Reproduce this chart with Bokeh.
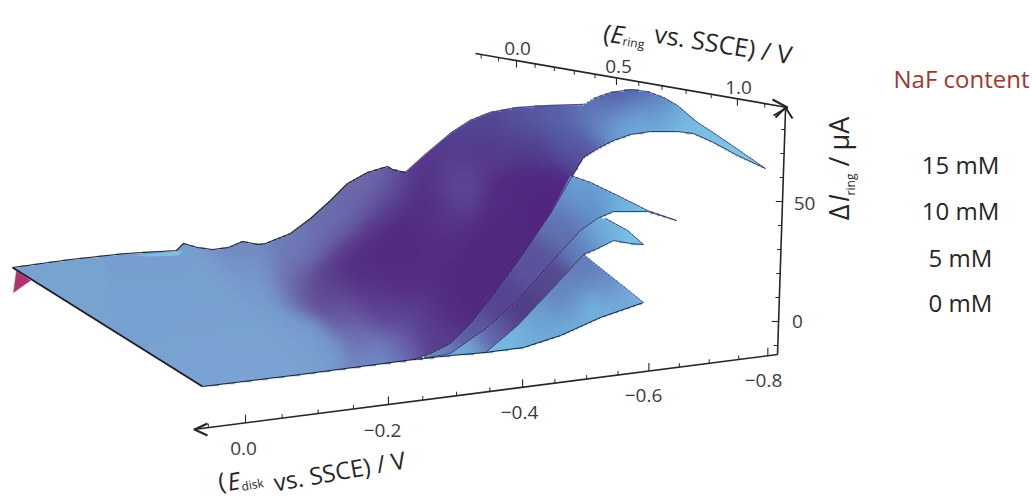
import numpy as np
from bokeh.plotting import figure
from bokeh.models import Range1d
from bokeh.core.properties import value
from bokeh.embed import file_html
from bokeh.resources import INLINE

W, H = 1032, 497
FONT = value("Open Sans")

# --- tick values on the three axes
disk_major = [0.0, -0.2, -0.4, -0.6, -0.8]
disk_minor = [0.05, -0.05, -0.1, -0.15, -0.25, -0.3, -0.35, -0.45, -0.5, -0.55, -0.65, -0.7, -0.75]
disk_labels = ["0.0", "\u22120.2", "\u22120.4", "\u22120.6", "\u22120.8"]
ring_major = [0.0, 0.5, 1.0]
ring_minor = [-0.2, -0.1, 0.1, 0.2, 0.3, 0.4, 0.6, 0.7, 0.8, 0.9, 1.1]
ring_labels = ["0.0", "0.5", "1.0"]
curr_major = [0, 50]
curr_minor = [-10, 10, 20, 30, 40, 60, 70, 80]
curr_labels = ["0", "50"]
naf_labels = ["15 mM", "10 mM", "5 mM", "0 mM"]

# --- projected outlines of the four measured surfaces
back_x = [12, 70, 125, 176, 183, 197, 212, 228, 242, 258, 265, 290, 310, 330, 347, 367, 380, 387, 392, 405]
back_y = [267, 259, 253, 250, 243, 247, 249, 247, 241, 244, 243, 233, 218, 200, 183, 172, 168, 166, 169, 172]
crest_x = [405, 425, 450, 470, 490, 517, 550, 583, 593, 610, 630, 647, 663, 677, 697, 717, 765]
crest_y = [172, 154, 133, 120, 112, 107, 105, 104, 98, 92, 89, 91, 97, 105, 122, 135, 168]
rim15_x = [765, 737, 713, 693, 677, 650, 630, 613, 597, 583, 572]
rim15_y = [168, 155, 142, 133, 131, 131, 134, 140, 148, 157, 175]
line1_x = [572, 550, 520, 490, 470, 450, 430, 413]
line1_y = [175, 213, 257, 298, 323, 343, 353, 359]
floor_x = [202, 300, 413, 450, 485, 523, 560, 600, 643]
floor_y = [386, 374, 359, 355, 352, 347, 335, 317, 302]
top10_x = [570, 590, 617, 647, 676]
top10_y = [175, 182, 195, 210, 220]
rim10_x = [676, 647, 613, 597, 580, 550, 517, 487, 450, 417]
rim10_y = [220, 211, 211, 218, 230, 263, 300, 327, 353, 359]
top5_x = [605, 627, 643]
top5_y = [218, 230, 244]
rim5_x = [643, 630, 613, 597, 583, 550, 517, 485]
rim5_y = [244, 243, 240, 248, 254, 290, 325, 352]
sliver_x = [135, 176, 183, 178, 150]
sliver_y = [255, 251, 250, 255, 256]
under_x = [16, 13, 30]
under_y = [270, 292, 280]

# --- surface colours read at places on the picture: x, y, r, g, b
flat15 = [
 (60,275,120,163,209),(150,300,119,161,208),(230,370,122,163,210),(300,358,122,163,210),
 (220,290,119,160,207),(250,320,120,161,208),(150,262,118,158,205),(270,345,122,163,210),
 (250,270,118,150,200),(262,285,118,156,205),(275,308,118,158,205),(300,335,118,156,205),
 (325,352,118,155,205),(380,360,112,145,200),
]
hill15 = [
 (250,250,112,135,190),(290,240,110,125,185),(330,210,105,110,175),(350,195,108,105,170),
 (372,178,112,110,175),(392,175,100,98,168),(290,262,110,120,182),(310,248,110,115,180),
 (325,235,108,108,175),(345,222,108,105,172),(362,205,106,100,170),(380,190,104,98,168),
]
purple15 = [
 (290,282,110,110,172),(305,288,100,82,150),(322,278,88,58,135),(340,262,84,45,130),(358,245,82,42,128),(375,225,82,42,128),(392,200,80,40,128),
 (407,178,82,45,130),(425,160,84,50,136),(400,250,82,42,128),(360,285,84,48,132),(400,280,84,45,130),(440,240,84,44,130),(430,205,82,44,130),
 (460,195,95,72,150),(455,170,92,66,146),(445,215,88,55,138),
 (480,150,85,55,138),(500,200,82,42,130),(525,180,80,40,128),(550,185,80,38,128),(480,235,80,42,128),(530,215,80,38,128),
 (480,270,80,40,128),(510,230,80,40,128),(445,305,82,44,130),(420,320,90,65,145),(470,305,80,42,128),
 (380,310,92,65,145),(345,315,105,90,165),(400,345,105,95,170),(440,340,88,60,140),(360,340,112,115,180),(330,295,98,78,152),
 (440,145,85,62,145),(480,125,82,72,148),(520,120,85,85,158),(550,113,88,95,168),(585,108,92,112,182),
 (510,145,82,62,142),(540,150,82,62,142),(580,150,85,75,155),(565,135,88,95,170),(610,100,88,95,172),(630,93,78,80,160),(650,98,88,110,182),
 (600,125,105,145,200),(625,120,112,170,218),(640,115,115,178,224),(665,112,112,170,218),(690,130,122,188,228),(720,145,125,192,230),(750,160,128,198,232),
]
field15 = flat15 + hill15 + purple15
field10 = [
 (580,188,108,168,218),(620,200,115,178,222),(650,213,122,190,230),(590,205,95,140,200),(560,225,95,110,175),
 (535,265,90,82,155),(505,305,85,68,145),(470,335,92,88,160),(440,352,105,130,190),(565,200,100,135,195),
]
field5 = [
 (615,228,118,185,225),(633,238,125,195,232),(600,235,105,165,215),(580,248,95,120,185),(550,280,85,72,142),
 (520,312,80,60,135),(495,335,95,95,165),(465,352,115,170,215),
]
field0 = [
 (585,265,100,125,185),(610,280,105,140,198),(630,297,118,175,222),(560,300,100,130,190),(535,318,108,160,208),
 (515,338,115,180,225),(495,350,118,185,228),(590,312,115,178,222),(560,330,112,172,218),
]
sliver_rgb = (125,190,225)
under_rgb = (178,52,110)


def disk_px(v):
    u = -np.asarray(v, float)
    return (245 + 778 * u) / (1 + 0.163 * u)

def disk_py(px):
    return 429 - 0.1284 * (np.asarray(px, float) - 193)

def ring_px(v):
    r = np.asarray(v, float)
    return (516 + 93 * r) / (1 - 0.1736 * r)

def ring_py(px):
    return 53 + 0.173 * (np.asarray(px, float) - 475)

def curr_py(v):
    return 321 - 2.4 * np.asarray(v, float)

def curr_px(py):
    return 777 + (354 - np.asarray(py, float)) * 0.0345


def shade(xs, ys, ctrl, sigma=15.0):
    c = np.array(ctrl, float)
    dx = xs[:, None] - c[:, 0]
    dy = ys[:, None] - c[:, 1]
    d2 = dx * dx + dy * dy
    d2 = d2 - d2.min(axis=1, keepdims=True)
    w = np.exp(-d2 / (2 * sigma * sigma)) + 1e-9
    return (w[:, :, None] * c[None, :, 2:]).sum(axis=1) / w.sum(axis=1)[:, None]


def cells(px, py, ctrl, rh=2, cw=4):
    px = np.array(px, float)
    py = np.array(py, float)
    qx, qy = np.roll(px, -1), np.roll(py, -1)
    L, R, T, B, C = [], [], [], [], []
    for top in range(int(py.min()), int(py.max()) + 1, rh):
        yc = top + rh / 2
        m = ((py <= yc) & (qy > yc)) | ((qy <= yc) & (py > yc))
        if not m.any():
            continue
        hits = np.sort(px[m] + (yc - py[m]) * (qx[m] - px[m]) / (qy[m] - py[m]))
        for a, b in zip(hits[::2], hits[1::2]):
            first = int(np.floor(a / cw)) * cw
            edges = np.arange(first, b + cw, cw, dtype=float)
            edges[0] = a
            edges = edges[edges <= b]
            if len(edges) == 0 or edges[-1] != b:
                edges = np.append(edges, b)
            if len(edges) < 2:
                continue
            mids = (edges[:-1] + edges[1:]) / 2
            rgb = shade(mids, np.full_like(mids, yc), ctrl)
            rgb = (np.round(rgb / 2) * 2).clip(0, 255).astype(int)
            cols = ["#%02x%02x%02x" % tuple(v) for v in rgb]
            s = 0
            n = len(cols)
            for i in range(1, n + 1):
                if i == n or cols[i] != cols[s]:
                    L.append(edges[s])
                    R.append(edges[i] + (1.0 if i < n else 0.0))
                    T.append(top)
                    B.append(top + rh + 0.7)
                    C.append(cols[s])
                    s = i
    return L, R, T, B, C


p = figure(width=W, height=H, x_range=Range1d(0, W), y_range=Range1d(H, 0),
           output_backend="svg", toolbar_location=None, min_border=0)
p.axis.visible = False
p.grid.visible = False
p.outline_line_color = None
p.background_fill_color = "white"
p.border_fill_color = "white"

# surfaces, back to front
p.patch(under_x, under_y, fill_color="#%02x%02x%02x" % under_rgb, line_color="#%02x%02x%02x" % under_rgb, line_width=0.5)

out15_x = back_x + crest_x[1:] + rim15_x[1:] + line1_x[1:] + floor_x[:3][::-1][1:]
out15_y = back_y + crest_y[1:] + rim15_y[1:] + line1_y[1:] + floor_y[:3][::-1][1:]
out10_x = top10_x + rim10_x[1:] + line1_x[::-1][1:-1]
out10_y = top10_y + rim10_y[1:] + line1_y[::-1][1:-1]
out5_x = top5_x + rim5_x[1:] + [450, 417] + rim10_x[::-1][1:-3]
out5_y = top5_y + rim5_y[1:] + [355, 359] + rim10_y[::-1][1:-3]
out0_x = [583, 643, 600, 560, 523, 485, 517, 550]
out0_y = [254, 302, 317, 335, 347, 352, 325, 290]

for ox, oy, f in [(out15_x, out15_y, field15), (out10_x, out10_y, field10),
                  (out5_x, out5_y, field5), (out0_x, out0_y, field0)]:
    l, r, t, b, c = cells(ox, oy, f)
    p.quad(left=l, right=r, top=t, bottom=b, fill_color=c, line_color=None)

p.patch(sliver_x, sliver_y, fill_color="#%02x%02x%02x" % sliver_rgb, line_color=None)

# surface edges
edge = "#2a2a48"
p.line(back_x, back_y, line_color="#20202c", line_width=1.1)
p.line(crest_x[:8], crest_y[:8], line_color="#54508f", line_width=1.6)
p.line(crest_x[8:], crest_y[8:], line_color="#3a3a6a", line_width=0.9)
p.line(rim15_x, rim15_y, line_color="#30304a", line_width=0.9)
p.line(line1_x, line1_y, line_color=edge, line_width=0.8)
p.line(floor_x, floor_y, line_color="#20202c", line_width=1.0)
p.line([12, 202], [267, 386], line_color="#1a1a24", line_width=1.5)
p.line(top10_x, top10_y, line_color=edge, line_width=0.8)
p.line(rim10_x, rim10_y, line_color=edge, line_width=0.8)
p.line(top5_x, top5_y, line_color=edge, line_width=0.8)
p.line(rim5_x, rim5_y, line_color=edge, line_width=0.8)
p.line([583, 643], [254, 302], line_color="#3a4a70", line_width=0.7)

# axes
ink = "#262626"
p.line([193, 777, 785, 787], [429, 354, 110, 107], line_color=ink, line_width=1.6)
p.line([475, 787], [53, 107], line_color=ink, line_width=1.6)
p.multi_line([[207, 194, 207], [772, 787, 773], [775, 785, 792]],
             [[423, 429, 435], [99, 107, 115], [117, 107, 118]], line_color=ink, line_width=2)

def ticks_disk(vals, ln, w):
    x = disk_px(vals); y = disk_py(x)
    p.segment(x, y, x, y - ln, line_color=ink, line_width=w)

def ticks_ring(vals, ln, w):
    x = ring_px(vals); y = ring_py(x)
    p.segment(x, y, x, y + ln, line_color=ink, line_width=w)

def ticks_curr(vals, ln, w):
    y = curr_py(vals); x = curr_px(y)
    p.segment(x, y, x - ln, y, line_color=ink, line_width=w)

ticks_disk(disk_major, 8, 1.1); ticks_disk(disk_minor, 4, 1.0)
ticks_ring(ring_major, 7, 1.1); ticks_ring(ring_minor, 4, 1.0)
ticks_curr(curr_major, 7, 1.1); ticks_curr(curr_minor, 4, 1.0)

grey = "#3c3c3c"
def txt(x, y, s, size, color=grey, angle=0.0, style="normal", align="center"):
    p.text([x], [y], text=[s], text_font=FONT, text_font_size=f"{size}px", text_color=color,
           angle=np.deg2rad(angle), text_font_style=style, text_align=align, text_baseline="middle")

for (x, y), s in zip([(243, 448), (382, 430), (519, 412), (643, 395), (763, 380)], disk_labels):
    txt(x, y, s, 19)
for (x, y), s in zip([(517, 48), (618, 66), (738, 87)], ring_labels):
    txt(x, y, s, 19)
for (x, y), s in zip([(797, 321), (804, 203)], curr_labels):
    txt(x, y, s, 19)

# ring axis title
txt(607, 32, "(", 25, ink, -9)
txt(617, 33, "E", 25, ink, -9, "italic")
txt(633, 42, "ring", 12, ink, -9)
txt(723, 43, "vs. SSCE) / V", 25, ink, -9)
# disk axis title
txt(221, 480, "(", 24, ink, 10)
txt(233, 480, "E", 24, ink, 10, "italic")
txt(252, 484, "disk", 12, ink, 10)
txt(339, 470, "vs. SSCE) / V", 24, ink, 10)
# current axis title
txt(838, 212, "\u0394", 27, ink, 90)
txt(838, 198, "I", 27, ink, 90, "italic")
txt(850, 184, "ring", 12, ink, 90)
txt(838, 161, "/", 27, ink, 90)
txt(838, 133, "\u03bcA", 27, ink, 90)

# right-hand list
txt(961, 78, "NaF content", 24, "#a1372d")
for y, s in zip([164, 210, 257, 302], naf_labels):
    txt(960, y, s, 24, ink)

open("out.html", "w").write(file_html(p, INLINE))
